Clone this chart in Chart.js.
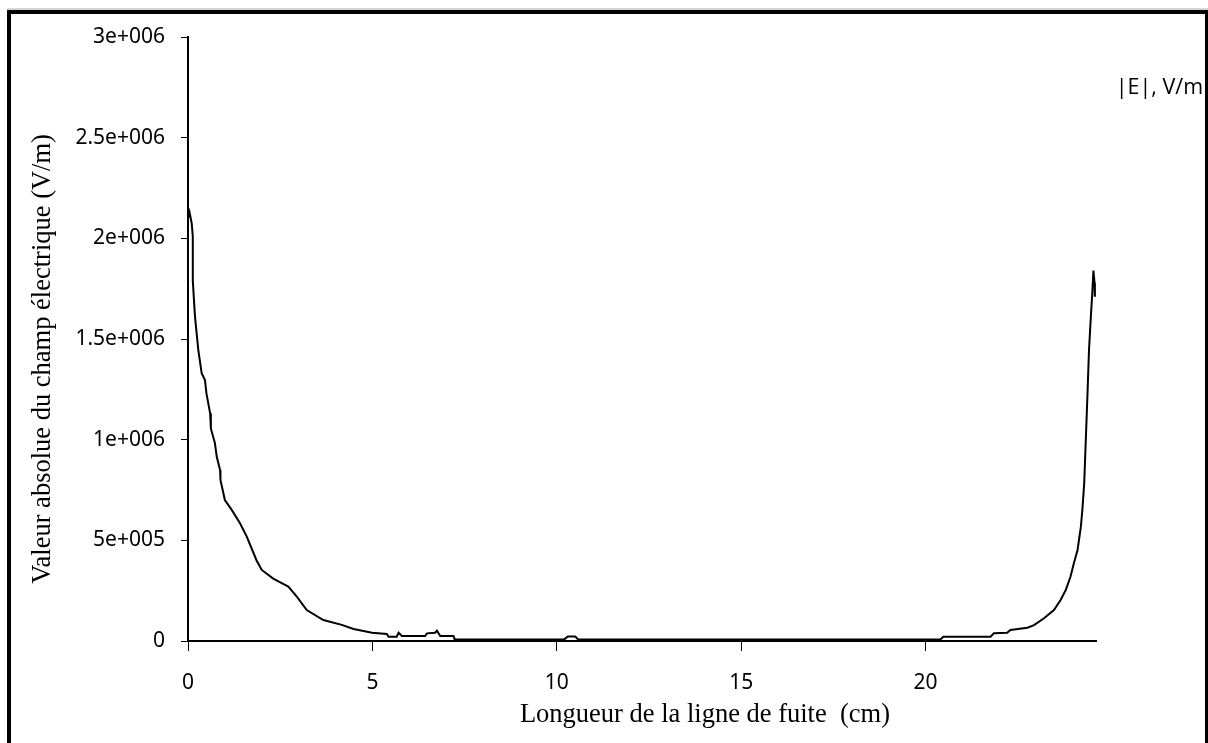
<!DOCTYPE html>
<html>
<head>
<meta charset="utf-8">
<script src="https://cdn.jsdelivr.net/npm/chart.js@4"></script>
<style>
  body { margin:0; background:#fff; }
  #wrap { position:relative; width:1208px; height:743px; overflow:hidden; }
  #frame { position:absolute; left:7px; top:10px; right:0; height:760px; border-top:4px solid #000; border-left:4px solid #000; border-right:3px solid #000; pointer-events:none; }
  #shade { position:absolute; left:7px; right:0; top:8px; height:2px; background:#d4d4d4; }
</style>
</head>
<body>
<div id="wrap">
  <canvas id="myChart" width="1208" height="743"></canvas>
  <div id="shade"></div>
  <div id="frame"></div>
</div>
<script>
// distance along the creepage path (cm) and |E| (V/m)
var distanceCm=[0,0.04,0.10,0.13,0.13,0.19,0.28,0.37,0.46,0.50,0.60,0.62,0.73,0.78,0.87,0.88,
    1.00,1.19,1.41,1.59,1.86,2.00,2.31,2.72,2.95,3.22,3.67,4.17,4.49,4.99,5.39,5.44,5.66,5.71,
    5.80,6.43,6.48,6.70,6.75,6.84,7.20,7.23,10.20,10.30,10.50,10.58,20.40,20.48,21.76,21.85,
    22.21,22.30,22.76,22.94,23.21,23.48,23.66,23.80,23.93,24.02,24.12,24.21,24.25,24.30,24.34,
    24.39,24.43,24.48,24.52,24.55,24.58,24.59];
var fieldVm=[2100000,2130000,2075000,2010000,1790000,1610000,1445000,1330000,1296000,1230000,
    1131000,1056000,982000,915000,849000,800000,700000,650000,585000,520000,400000,353000,
    310000,270000,220000,154000,104000,80000,60000,41000,35000,21000,21000,41000,25000,25000,
    38000,41000,51000,25000,25000,8000,8000,22000,22000,8000,8000,21000,21000,38000,41000,
    55000,66000,79000,113000,154000,204000,253000,320000,386000,452000,568000,651000,783000,
    982000,1230000,1445000,1610000,1730000,1840000,1780000,1710000];

var seriesLabel='|E|, V/m';
var xTickValues=[0,5,10,15,20];
var yTickValues=[0,500000,1000000,1500000,2000000,2500000,3000000];
var yTickLabels=['0','5e+005','1e+006','1.5e+006','2e+006','2.5e+006','3e+006'];

var points=[];
for(let i=0;i<distanceCm.length;i++){
    points.push({x:distanceCm[i],y:fieldVm[i]});
}

var tickFont={family:'"Noto Sans", sans-serif',size:21};
var titleFont={family:'"Liberation Serif", serif',size:26.5};

var canvas=document.getElementById('myChart').getContext('2d');
var myChart=new Chart(canvas,{
    type:'line',
    data:{
        datasets:[{
            label:seriesLabel,
            data:points,
            borderColor:'#000',
            borderWidth:2,
            pointRadius:0,
            tension:0,
            fill:false
        }]
    },
    options:{
        responsive:false,
        animation:false,
        layout:{padding:{top:37,left:0,right:0,bottom:0}},
        plugins:{
            legend:{
                position:'right',
                align:'start',
                maxWidth:112,
                title:{display:true,text:'',font:{size:12},padding:{top:0,bottom:16.85}},
                labels:{boxWidth:0,boxHeight:0,padding:9,color:'#000',
                    font:{family:'"Open Sans", sans-serif',size:21.5}}
            },
            tooltip:{enabled:false}
        },
        scales:{
            x:{
                type:'linear',
                min:0,
                max:24.62,
                afterFit:function(scale){scale.height=102;},
                afterBuildTicks:function(scale){
                    scale.ticks=xTickValues.map(function(v){return {value:v};});
                },
                grid:{drawOnChartArea:false,tickLength:10,color:'#000',lineWidth:1},
                border:{display:true,color:'#000',width:2},
                ticks:{color:'#000',font:tickFont,padding:19,maxRotation:0},
                title:{display:true,
                    text:'                   Longueur de la ligne de fuite  (cm)',
                    color:'#000',font:titleFont,padding:{top:0,bottom:12}}
            },
            y:{
                min:0,
                max:3000000,
                afterFit:function(scale){scale.width=188;},
                afterBuildTicks:function(scale){
                    scale.ticks=yTickValues.map(function(v){return {value:v};});
                },
                grid:{drawOnChartArea:false,tickLength:7,color:'#000',lineWidth:1},
                border:{display:true,color:'#000',width:2},
                ticks:{color:'#000',font:tickFont,padding:16,
                    callback:function(value,index){return yTickLabels[index];}},
                title:{display:true,
                    text:'Valeur absolue du champ électrique (V/m)      ',
                    color:'#000',font:titleFont,padding:{top:27,bottom:0}}
            }
        }
    }
});
</script>
</body>
</html>
